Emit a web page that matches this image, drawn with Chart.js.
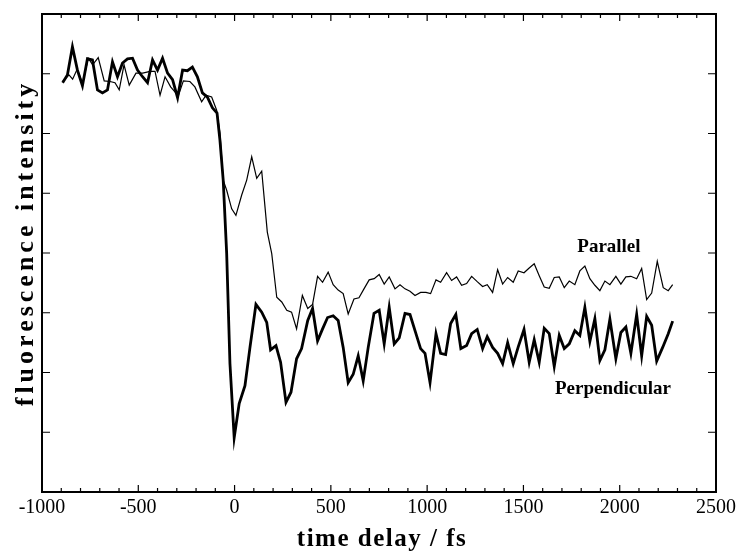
<!DOCTYPE html>
<html>
<head>
<meta charset="utf-8">
<script src="https://cdn.jsdelivr.net/npm/chart.js@4.4.0/dist/chart.umd.min.js"></script>
<style>
html, body { margin: 0; padding: 0; background: #fff; }
</style>
</head>
<body>
<canvas id="chart" width="736" height="552"></canvas>
<script>
// time delay (fs) and fluorescence intensity (arb. units)
var perpTimes = [-893, -868, -842, -816, -790, -764, -738, -712, -686, -660,
    -634, -608, -582, -556, -530, -504, -478, -452, -426, -400,
    -374, -348, -322, -296, -270, -245, -219, -193, -167, -141,
    -115, -91, -76, -59, -41, -24, -2, 24, 54, 80,
    111, 141, 167, 187, 215, 239, 267, 293, 322, 348,
    380, 405, 431, 457, 483, 512, 538, 564, 590, 616,
    642, 668, 694, 724, 751, 777, 803, 829, 855, 885,
    911, 939, 966, 989, 1015, 1046, 1070, 1096, 1122, 1149,
    1175, 1205, 1231, 1260, 1288, 1312, 1340, 1366, 1392, 1418,
    1447, 1473, 1503, 1530, 1556, 1582, 1608, 1634, 1660, 1686,
    1712, 1738, 1767, 1793, 1819, 1845, 1871, 1897, 1923, 1949,
    1980, 2006, 2032, 2058, 2088, 2114, 2140, 2166, 2192, 2223,
    2252, 2275];
var perpValues = [6.85, 6.98, 7.45, 7.06, 6.80, 7.25, 7.23, 6.73, 6.68, 6.73,
    7.20, 6.95, 7.18, 7.25, 7.26, 7.06, 6.95, 6.85, 7.23, 7.06,
    7.26, 7.01, 6.90, 6.60, 7.06, 7.05, 7.11, 6.95, 6.68, 6.61,
    6.43, 6.34, 5.89, 5.22, 3.99, 2.15, 0.91, 1.48, 1.78, 2.42,
    3.14, 3.01, 2.84, 2.38, 2.45, 2.17, 1.50, 1.67, 2.23, 2.40,
    2.87, 3.07, 2.53, 2.73, 2.92, 2.95, 2.87, 2.42, 1.83, 1.97,
    2.28, 1.86, 2.42, 2.99, 3.04, 2.48, 3.09, 2.48, 2.58, 2.99,
    2.97, 2.68, 2.40, 2.32, 1.83, 2.65, 2.32, 2.30, 2.82, 2.97,
    2.40, 2.45, 2.65, 2.72, 2.40, 2.60, 2.42, 2.32, 2.15, 2.50,
    2.15, 2.43, 2.72, 2.17, 2.55, 2.17, 2.74, 2.65, 2.10, 2.62,
    2.40, 2.48, 2.70, 2.62, 3.09, 2.52, 2.90, 2.20, 2.38, 2.89,
    2.23, 2.67, 2.76, 2.32, 2.97, 2.28, 2.94, 2.79, 2.19, 2.42,
    2.65, 2.86];

var parTimes = [-893, -860, -841, -817, -789, -760, -737, -708, -677, -647,
    -621, -599, -574, -547, -512, -477, -439, -413, -387, -361,
    -332, -292, -266, -232, -206, -171, -148, -119, -93, -76,
    -59, -41, -15, 7, 37, 63, 89, 115, 141, 170,
    193, 219, 245, 271, 296, 322, 352, 380, 405, 431,
    457, 486, 512, 538, 564, 590, 620, 646, 672, 699,
    725, 751, 777, 803, 833, 859, 885, 911, 937, 966,
    994, 1018, 1046, 1070, 1101, 1127, 1153, 1179, 1205, 1231,
    1260, 1288, 1312, 1340, 1366, 1392, 1418, 1447, 1473, 1503,
    1530, 1556, 1582, 1608, 1634, 1660, 1686, 1712, 1738, 1767,
    1793, 1819, 1845, 1871, 1897, 1923, 1949, 1980, 2006, 2032,
    2058, 2088, 2114, 2140, 2166, 2195, 2226, 2252, 2275];
var parValues = [6.87, 6.98, 6.91, 7.08, 6.83, 7.26, 7.15, 7.27, 6.88, 6.87,
    6.85, 6.73, 7.15, 6.81, 7.01, 7.01, 7.04, 7.04, 6.64, 6.95,
    6.78, 6.63, 6.88, 6.87, 6.78, 6.53, 6.64, 6.61, 6.39, 6.01,
    5.22, 5.05, 4.74, 4.63, 4.97, 5.22, 5.61, 5.25, 5.37, 4.35,
    3.99, 3.26, 3.18, 3.04, 3.01, 2.73, 3.29, 3.07, 3.14, 3.61,
    3.51, 3.68, 3.47, 3.38, 3.32, 2.98, 3.23, 3.25, 3.40, 3.55,
    3.57, 3.64, 3.48, 3.60, 3.40, 3.47, 3.40, 3.36, 3.29, 3.34,
    3.34, 3.32, 3.55, 3.51, 3.67, 3.54, 3.60, 3.46, 3.49, 3.61,
    3.52, 3.44, 3.47, 3.34, 3.72, 3.48, 3.59, 3.51, 3.70, 3.67,
    3.75, 3.82, 3.62, 3.43, 3.41, 3.59, 3.60, 3.42, 3.53, 3.47,
    3.70, 3.78, 3.57, 3.46, 3.37, 3.53, 3.47, 3.61, 3.48, 3.60,
    3.61, 3.57, 3.74, 3.22, 3.33, 3.86, 3.42, 3.37, 3.47];

var seriesNames = ['Parallel', 'Perpendicular'];
var xTitle = 'time delay / fs';
var yTitle = 'fluorescence intensity';

function points(ts, vs) {
    return ts.map(function(t, i) { return { x: t, y: vs[i] }; });
}

var serif = '"Liberation Serif", "Times New Roman", serif';

// frame, inward ticks, curve labels and spaced-out axis titles
var decorations = {
    id: 'decorations',
    afterDraw: function(chart) {
        var ctx = chart.ctx, a = chart.chartArea;
        var xs = chart.scales.x, ys = chart.scales.y;
        ctx.save();
        ctx.strokeStyle = '#000';
        ctx.lineWidth = 2;
        ctx.strokeRect(a.left, a.top, a.right - a.left, a.bottom - a.top);

        ctx.lineWidth = 1.2;
        ctx.beginPath();
        for (var t = -1000; t <= 2500; t += 100) {
            var px = xs.getPixelForValue(t);
            var len = t % 500 === 0 ? 7 : 4;
            ctx.moveTo(px, a.bottom); ctx.lineTo(px, a.bottom - len);
            ctx.moveTo(px, a.top); ctx.lineTo(px, a.top + len);
        }
        for (var v = 1; v < 8; v++) {
            var py = ys.getPixelForValue(v);
            ctx.moveTo(a.left, py); ctx.lineTo(a.left + 8, py);
            ctx.moveTo(a.right, py); ctx.lineTo(a.right - 8, py);
        }
        ctx.stroke();

        ctx.fillStyle = '#000';
        ctx.textAlign = 'center';
        ctx.textBaseline = 'middle';
        ctx.font = 'bold 19px ' + serif;
        ctx.fillText(seriesNames[0], xs.getPixelForValue(1944), ys.getPixelForValue(4.10));
        ctx.fillText(seriesNames[1], xs.getPixelForValue(1965), ys.getPixelForValue(1.72));

        ctx.font = 'bold 25px ' + serif;
        ctx.textBaseline = 'alphabetic';
        ctx.letterSpacing = '1.5px';
        ctx.fillText(xTitle, 382, 546);

        ctx.translate(33, 243);
        ctx.rotate(-Math.PI / 2);
        ctx.font = 'bold 26px ' + serif;
        ctx.letterSpacing = '4px';
        ctx.fillText(yTitle, 0, 0);
        ctx.restore();
    }
};

var config = {
    type: 'line',
    data: {
        datasets: [{
            label: seriesNames[0],
            data: points(parTimes, parValues),
            borderColor: '#000',
            borderWidth: 1.2,
            pointRadius: 0,
            tension: 0
        }, {
            label: seriesNames[1],
            data: points(perpTimes, perpValues),
            borderColor: '#000',
            borderWidth: 2.8,
            pointRadius: 0,
            tension: 0
        }]
    },
    options: {
        responsive: false,
        animation: false,
        layout: {
            padding: { left: 42, right: 20, top: 14, bottom: 28 }
        },
        plugins: {
            legend: { display: false },
            tooltip: { enabled: false }
        },
        scales: {
            x: {
                type: 'linear',
                min: -1000,
                max: 2500,
                grid: { display: false, drawTicks: false },
                border: { display: false },
                ticks: {
                    stepSize: 500,
                    padding: 4,
                    color: '#000',
                    maxRotation: 0,
                    font: { family: serif, size: 20 },
                    callback: function(v) { return String(v); }
                },
                afterFit: function(scale) {
                    scale.paddingLeft = 0;
                    scale.paddingRight = 0;
                }
            },
            y: {
                display: false,
                min: 0,
                max: 8
            }
        }
    },
    plugins: [decorations]
};

new Chart(document.getElementById('chart').getContext('2d'), config);
</script>
</body>
</html>
